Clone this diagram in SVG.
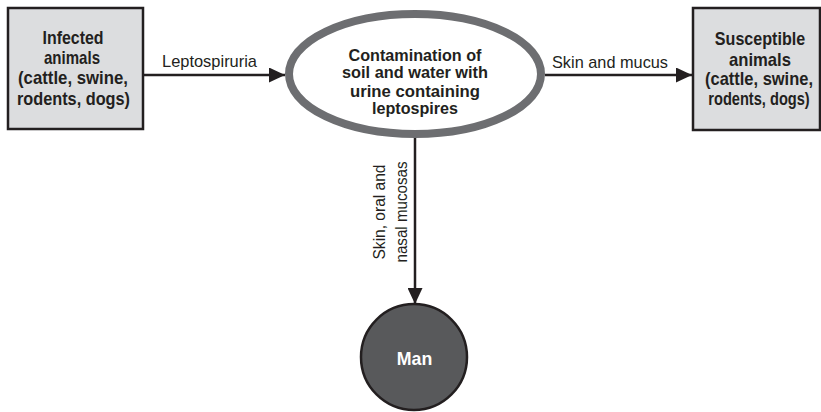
<svg xmlns="http://www.w3.org/2000/svg" width="821" height="412" viewBox="0 0 821 412">
<style>
.box{fill:#dcdddf;stroke:#231f20;stroke-width:2.5}
.bt{font-family:"Liberation Sans",Arial,sans-serif;font-weight:bold;font-size:18.5px;fill:#231f20;text-anchor:middle}
.et{font-family:"Liberation Sans",Arial,sans-serif;font-weight:bold;font-size:16.5px;fill:#231f20;text-anchor:middle}
.lb{font-family:"Liberation Sans",Arial,sans-serif;font-size:17px;fill:#231f20}
.rl{font-family:"Liberation Sans",Arial,sans-serif;font-size:16.5px;fill:#231f20;text-anchor:middle}
.ln{stroke:#231f20;stroke-width:2.5;fill:none}
</style>
<defs>
<marker id="ah" viewBox="0 0 16 15" refX="16" refY="7.5" markerWidth="16" markerHeight="15" markerUnits="userSpaceOnUse" orient="auto">
<path d="M0,0 L16,7.5 L0,15 Z" fill="#231f20"/>
</marker>
</defs>
<g id="connectors">
<line class="ln" x1="143" y1="75" x2="285" y2="75" marker-end="url(#ah)"/>
<line class="ln" x1="545" y1="75" x2="692" y2="75" marker-end="url(#ah)"/>
<line class="ln" x1="415" y1="138" x2="415" y2="304" marker-end="url(#ah)"/>
<text class="lb" x="162" y="67" textLength="95" lengthAdjust="spacingAndGlyphs">Leptospiruria</text>
<text class="lb" x="552" y="68" textLength="116" lengthAdjust="spacingAndGlyphs">Skin and mucus</text>
<text class="rl" transform="translate(385,212) rotate(-90)" textLength="95" lengthAdjust="spacingAndGlyphs">Skin, oral and</text>
<text class="rl" transform="translate(406.5,212) rotate(-90)" textLength="101" lengthAdjust="spacingAndGlyphs">nasal mucosas</text>
</g>
<g id="infected">
<rect class="box" x="8" y="8" width="135" height="121"/>
<text class="bt" x="73" y="43.5" textLength="61" lengthAdjust="spacingAndGlyphs">Infected</text>
<text class="bt" x="72" y="63.5" textLength="56" lengthAdjust="spacingAndGlyphs">animals</text>
<text class="bt" x="73" y="84" textLength="110" lengthAdjust="spacingAndGlyphs">(cattle, swine,</text>
<text class="bt" x="73.5" y="104.5" textLength="113" lengthAdjust="spacingAndGlyphs">rodents, dogs)</text>
</g>
<g id="contamination">
<ellipse cx="415" cy="74" rx="126" ry="60" fill="#ffffff" stroke="#6d6e71" stroke-width="8"/>
<text class="et" x="415" y="60.7" textLength="133" lengthAdjust="spacingAndGlyphs">Contamination of</text>
<text class="et" x="415" y="78.3" textLength="146" lengthAdjust="spacingAndGlyphs">soil and water with</text>
<text class="et" x="415" y="96.5" textLength="130" lengthAdjust="spacingAndGlyphs">urine containing</text>
<text class="et" x="415" y="114" textLength="86" lengthAdjust="spacingAndGlyphs">leptospires</text>
</g>
<g id="susceptible">
<rect class="box" x="693" y="8" width="127" height="122"/>
<text class="bt" transform="translate(760,45) scale(0.87,1)">Susceptible</text>
<text class="bt" transform="translate(760,65.5) scale(0.9,1)">animals</text>
<text class="bt" transform="translate(759,85) scale(0.89,1)">(cattle, swine,</text>
<text class="bt" transform="translate(759,105) scale(0.79,1)">rodents, dogs)</text>
</g>
<g id="man">
<circle cx="414" cy="357" r="53" fill="#58595b" stroke="#231f20" stroke-width="2.5"/>
<text class="bt" x="414.5" y="365" style="fill:#ffffff" textLength="35.5" lengthAdjust="spacingAndGlyphs">Man</text>
</g>
</svg>
